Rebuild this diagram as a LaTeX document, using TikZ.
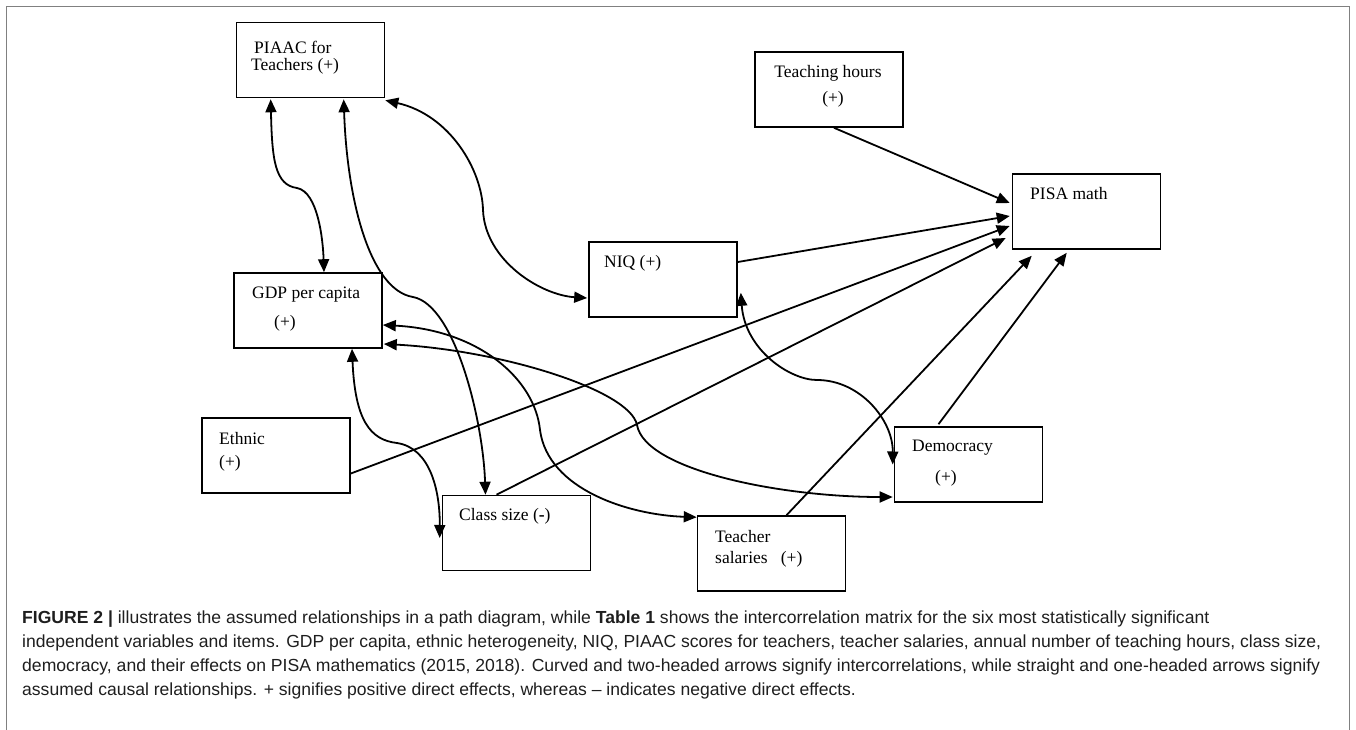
\documentclass[tikz,border=0pt]{standalone}
\usepackage{fontspec}
\setmainfont{Liberation Serif}
\newfontfamily\capfontfam{Liberation Sans}
\usepackage{graphicx}
\usetikzlibrary{arrows.meta,calc}
\definecolor{capgray}{HTML}{1E1E1E}
\definecolor{framegray}{HTML}{808080}
\newsavebox\capsaveB
\newsavebox\capsaveC
\newlength\capnatB
\newlength\capnatC
\newcommand\capfont{\capfontfam\fontsize{17.5}{20}\selectfont\color{capgray}}
\begin{document}
\sbox\capsaveB{\capfont independent variables and items. GDP per capita, ethnic heterogeneity, NIQ, PIAAC scores for teachers, teacher salaries, annual number of teaching hours, class size,}%
\setlength\capnatB{\wd\capsaveB}%
\sbox\capsaveC{\capfont democracy, and their effects on PISA mathematics (2015, 2018). Curved and two-headed arrows signify intercorrelations, while straight and one-headed arrows signify}%
\setlength\capnatC{\wd\capsaveC}%
\pgfmathsetmacro\capsx{1299/\capnatB}%
\pgfmathsetmacro\capsy{1298/\capnatC}%
\begin{tikzpicture}[x=1pt,y=-1pt,
  box/.style={draw=black,line width=1.6pt,minimum width=148pt,minimum height=75pt,inner sep=0pt},
  lbl/.style={anchor=west,inner sep=0pt,font=\fontsize{17.5}{20}\selectfont},
  captext/.style={anchor=base west,inner sep=0pt},
  conn/.style={line width=1.8pt,-{Triangle[length=13pt,width=11pt]}},
  corr/.style={line width=1.8pt,{Triangle[length=13pt,width=11pt]}-{Triangle[length=13pt,width=11pt]}},
  framestyle/.style={draw=framegray,line width=1.3pt}]
\useasboundingbox (0,0) rectangle (1356,730);
\draw[framestyle] (6.5,730) -- (6.5,6.5) -- (1349.5,6.5) -- (1349.5,730);

% boxes
\node[box] (piaac) at (310.5,60) {};
\node[box] (teach) at (829,89.5) {};
\node[box] (pisa) at (1086.5,211.5) {};
\node[box] (niq) at (663,279.5) {};
\node[box] (gdp) at (308,310.5) {};
\node[box] (ethnic) at (276,455.5) {};
\node[box] (class) at (516.5,533) {};
\node[box] (democ) at (968.5,464.5) {};
\node[box] (salary) at (771.5,553.5) {};

% labels
\node[lbl] (piaacA) at (254,47) {PIAAC for};
\node[lbl] (piaacB) at (251,66) {Teachers (+)};
\node[lbl,anchor=center] (teachA) at (828,73) {Teaching hours};
\node[lbl,anchor=center] (teachB) at (833,99) {(+)};
\node[lbl] (pisaA) at (1030,194) {PISA math};
\node[lbl] (niqA) at (604,263) {NIQ (+)};
\node[lbl] (gdpA) at (252,295) {GDP per capita};
\node[lbl] (gdpB) at (274,323) {(+)};
\node[lbl] (ethA) at (219,439) {Ethnic};
\node[lbl] (ethB) at (219,463) {(+)};
\node[lbl] (classA) at (459,516) {Class size (\textbf{-})};
\node[lbl] (demA) at (912,448) {Democracy};
\node[lbl] (demB) at (935,478) {(+)};
\node[lbl] (salA) at (715,537) {Teacher};
\node[lbl] (salB) at (715,559) {salaries\ \ \ (+)};

% causal arrows
\draw[conn] ($(teach.south)+(5,0)$) -- ($(pisa.west)+(-2,-8.5)$);
\draw[conn] ($(niq.east)+(0,-17.5)$) -- ($(pisa.west)+(-2,4.5)$);
\draw[conn] ($(ethnic.east)+(0,18)$) -- ($(pisa.west)+(-2,14.5)$);
\draw[conn] ($(class.north)+(-20,0)$) -- ($(pisa.west)+(-6,26.5)$);
\draw[conn] ($(salary.north)+(15,0)$) -- ($(pisa.south west)+(20,6)$);
\draw[conn] ($(democ.north)+(-30,-2)$) -- ($(pisa.south west)+(55,3)$);

% correlations
\draw[corr] ($(piaac.south west)+(35,1)$) .. controls (272,160) and (275,185) .. (297,188)
   .. controls (318,192) and (323,240) .. ($(gdp.north)+(16,0)$);
\draw[corr] ($(piaac.south west)+(108,1)$) .. controls (347,200) and (370,290) .. (413,297)
   .. controls (455,305) and (483,420) .. ($(class.north)+(-31,0)$);
\draw[corr] ($(piaac.south east)+(0,2)$) .. controls (450,115) and (482,170) .. (483,210)
   .. controls (485,260) and (540,295) .. ($(niq.west)+(-1,18.5)$);
\draw[corr] ($(gdp.south)+(44,0)$) .. controls (355,420) and (370,440) .. (397,443)
   .. controls (430,448) and (440,490) .. ($(class.west)+(-2,5)$);
\draw[corr] ($(gdp.east)+(0,14.5)$) .. controls (480,330) and (535,380) .. (540,430)
   .. controls (548,490) and (630,515) .. ($(salary.north west)+(0,2)$);
\draw[corr] ($(gdp.east)+(1,33.5)$) .. controls (500,350) and (630,390) .. (637,425)
   .. controls (645,470) and (780,497) .. ($(democ.west)+(-1,32.5)$);
\draw[corr] ($(niq.south east)+(3,-25)$) .. controls (745,350) and (790,380) .. (817,380)
   .. controls (860,380) and (893,420) .. ($(democ.west)+(-1,0)$);

% caption
\node[captext] (capA) at (22,623) {\scalebox{\capsx}[1]{\capfont\textbf{FIGURE 2 |} illustrates the assumed relationships in a path diagram, while \textbf{Table 1} shows the intercorrelation matrix for the six most statistically significant}};
\node[captext] (capB) at (22,647) {\scalebox{\capsx}[1]{\usebox\capsaveB}};
\node[captext] (capC) at (22,671) {\scalebox{\capsy}[1]{\usebox\capsaveC}};
\node[captext] (capD) at (22,695) {\scalebox{\capsx}[1]{\capfont assumed causal relationships. + signifies positive direct effects, whereas – indicates negative direct effects.}};
\end{tikzpicture}
\end{document}
